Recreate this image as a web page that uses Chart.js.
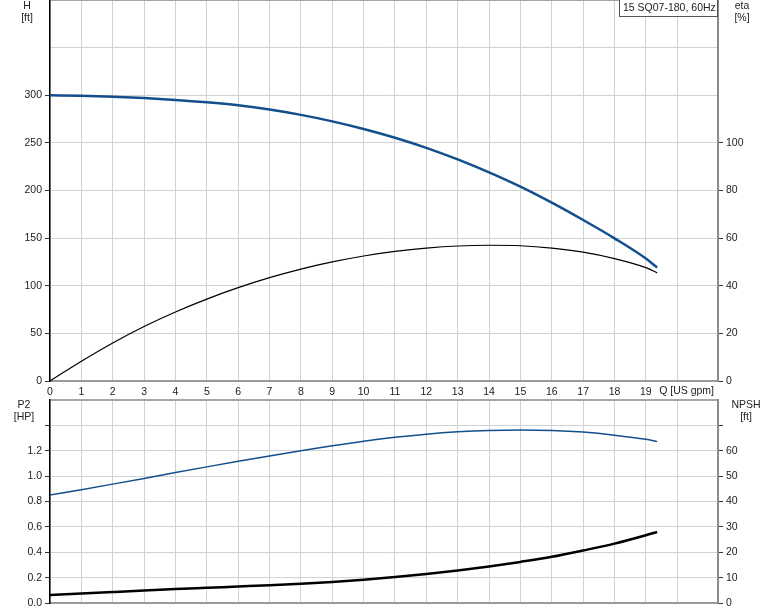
<!DOCTYPE html>
<html>
<head>
<meta charset="utf-8">
<script src="https://cdn.jsdelivr.net/npm/chart.js@4"></script>
<style>
body { margin: 0; background: #fff; }
canvas { position: absolute; left: 0; }
#top { top: 0; }
#bottom { top: 398px; }
</style>
</head>
<body>
<canvas id="top" width="774" height="398"></canvas>
<canvas id="bottom" width="774" height="213"></canvas>
<script>
// Q [US gpm] where the curves were read
var flow = [0, 1, 2, 3, 4, 5, 6, 7, 8, 9, 10, 11, 12, 13, 14, 15, 16, 17, 18, 19, 19.36];
// H [ft]
var head = [300, 299.5, 298.4, 297, 295.1, 292.6, 289.4, 285.0, 279.4, 272.6, 264.6, 255.4, 244.8, 232.6, 219.0, 204.0, 187.2, 169.0, 149.8, 128.6, 119.0];
// eta [%]
var eta = [0, 8.3, 16.0, 22.9, 29.0, 34.4, 39.2, 43.4, 47.0, 50.0, 52.5, 54.4, 55.8, 56.7, 57.0, 56.8, 55.8, 54.1, 51.4, 47.6, 45.4];
// P2 [HP]
var p2 = [0.851, 0.893, 0.937, 0.982, 1.028, 1.073, 1.117, 1.159, 1.200, 1.239, 1.275, 1.306, 1.331, 1.349, 1.360, 1.364, 1.360, 1.347, 1.323, 1.290, 1.272];
// NPSH [ft]
var npsh = [3.2, 3.7, 4.3, 4.9, 5.5, 6.0, 6.5, 7.0, 7.6, 8.3, 9.2, 10.2, 11.4, 12.8, 14.4, 16.2, 18.2, 20.7, 23.4, 26.7, 28.0];

var curve_name = "15 SQ07-180, 60Hz";
var q_title = "Q [US gpm]";

const BLUE = '#134f8c';
const GRID = '#d2d2d2';

Chart.defaults.font.family = '"Liberation Sans", Arial, sans-serif';
Chart.defaults.font.size = 10.5;
Chart.defaults.color = '#222';

function pts(ys)
{
    return flow.map(function(q, i) { return {x: q, y: ys[i]}; });
}

function grid_color(ctx)
{
    if (ctx.tick && ctx.tick.value >= ctx.scale.max - 1e-9)
	return '#a6a6a6';
    return GRID;
}

function grid_width(ctx)
{
    if (ctx.tick && ctx.tick.value >= ctx.scale.max - 1e-9)
	return 2;
    return 1;
}

// small text written on the canvas after the chart
function texts(items)
{
    return {
	id: 'texts',
	afterDraw: function(chart) {
	    var c = chart.ctx;
	    c.save();
	    c.font = '10.5px "Liberation Sans", Arial, sans-serif';
	    c.fillStyle = '#222';
	    c.textBaseline = 'middle';
	    items.forEach(function(t) {
		if (t.box) {
		    c.fillStyle = '#fff';
		    c.fillRect(t.box[0], t.box[1], t.box[2], t.box[3]);
		    c.strokeStyle = '#555';
		    c.lineWidth = 1;
		    c.strokeRect(t.box[0] + 0.5, t.box[1] + 0.5, t.box[2], t.box[3]);
		    c.fillStyle = '#222';
		}
		c.textAlign = t.align || 'center';
		c.fillText(t.s, t.x, t.y);
	    });
	    c.restore();
	}
    };
}

function no_pad(s)
{
    s.paddingTop = 0;
    s.paddingBottom = 0;
    s.paddingLeft = 0;
    s.paddingRight = 0;
}

function x_axis(h, labels)
{
    return {
	type: 'linear',
	min: 0,
	max: 21.3,
	ticks: {
	    stepSize: 1,
	    display: labels,
	    padding: 5,
	    autoSkip: false,
	    maxRotation: 0,
	    callback: function(v) { return (v <= 19 && v == Math.round(v)) ? v : ''; }
	},
	grid: { color: GRID, drawTicks: false },
	border: { color: '#9a9a9a', width: 2 },
	afterFit: function(s) { s.height = h; no_pad(s); }
    };
}

// extra: how many unlabeled ticks above the last label still get a tick mark
function y_axis(pos, max, step, last, extra, width, fmt, grid)
{
    return {
	position: pos,
	min: 0,
	max: max,
	ticks: {
	    stepSize: step,
	    padding: 3,
	    callback: function(v) { return v <= last + 1e-9 ? fmt(v) : ''; }
	},
	grid: {
	    drawOnChartArea: grid,
	    color: grid_color,
	    lineWidth: grid_width,
	    tickLength: 5,
	    tickColor: function(ctx) {
		return ctx.tick.value <= last + extra * step + 1e-9 && ctx.tick.value < max - 1e-9 ? '#333' : 'rgba(0,0,0,0)';
	    }
	},
	border: pos == 'left' ? { color: '#000', width: 1.5 } : { color: '#8a8a8a', width: 2 },
	afterFit: function(s) { s.width = width; no_pad(s); }
    };
}

function plain(v) { return v; }
function one_dec(v) { return v.toFixed(1); }

function draw_top()
{
    var ctx = document.getElementById('top');
    new Chart(ctx, {
	type: 'line',
	data: {
	    datasets: [{
		label: 'H',
		yAxisID: 'h',
		data: pts(head),
		borderColor: BLUE,
		borderWidth: 2.5
	    }, {
		label: 'eta',
		yAxisID: 'eta',
		data: pts(eta),
		borderColor: '#000',
		borderWidth: 1.2
	    }]
	},
	options: {
	    responsive: false,
	    animation: false,
	    layout: { padding: 0 },
	    elements: { point: { radius: 0 }, line: { cubicInterpolationMode: 'monotone' } },
	    plugins: { legend: { display: false }, tooltip: { enabled: false } },
	    scales: {
		x: x_axis(17, true),
		h: y_axis('left', 400, 50, 300, 0, 50, plain, true),
		eta: y_axis('right', 160, 20, 100, 0, 56, plain, false)
	    }
	},
	plugins: [texts([
	    {s: 'H', x: 27, y: 6},
	    {s: '[ft]', x: 27, y: 18},
	    {s: 'eta', x: 742, y: 6},
	    {s: '[%]', x: 742, y: 18},
	    {s: q_title, x: 714, y: 391, align: 'right'},
	    {s: curve_name, x: 623, y: 8, align: 'left', box: [619, -1, 98, 17]}
	])]
    });
}

function draw_bottom()
{
    var ctx = document.getElementById('bottom');
    new Chart(ctx, {
	type: 'line',
	data: {
	    datasets: [{
		label: 'P2',
		yAxisID: 'p2',
		data: pts(p2),
		borderColor: BLUE,
		borderWidth: 1.5
	    }, {
		label: 'NPSH',
		yAxisID: 'npsh',
		data: pts(npsh),
		borderColor: '#000',
		borderWidth: 2.5
	    }]
	},
	options: {
	    responsive: false,
	    animation: false,
	    layout: { padding: { top: 2 } },
	    elements: { point: { radius: 0 }, line: { cubicInterpolationMode: 'monotone' } },
	    plugins: { legend: { display: false }, tooltip: { enabled: false } },
	    scales: {
		x: x_axis(8, false),
		p2: y_axis('left', 1.6, 0.2, 1.2, 1, 50, one_dec, true),
		npsh: y_axis('right', 80, 10, 60, 1, 56, plain, false)
	    }
	},
	plugins: [texts([
	    {s: 'P2', x: 24, y: 7},
	    {s: '[HP]', x: 24, y: 19},
	    {s: 'NPSH', x: 746, y: 7},
	    {s: '[ft]', x: 746, y: 19}
	])]
    });
}

draw_top();
draw_bottom();
</script>
</body>
</html>
